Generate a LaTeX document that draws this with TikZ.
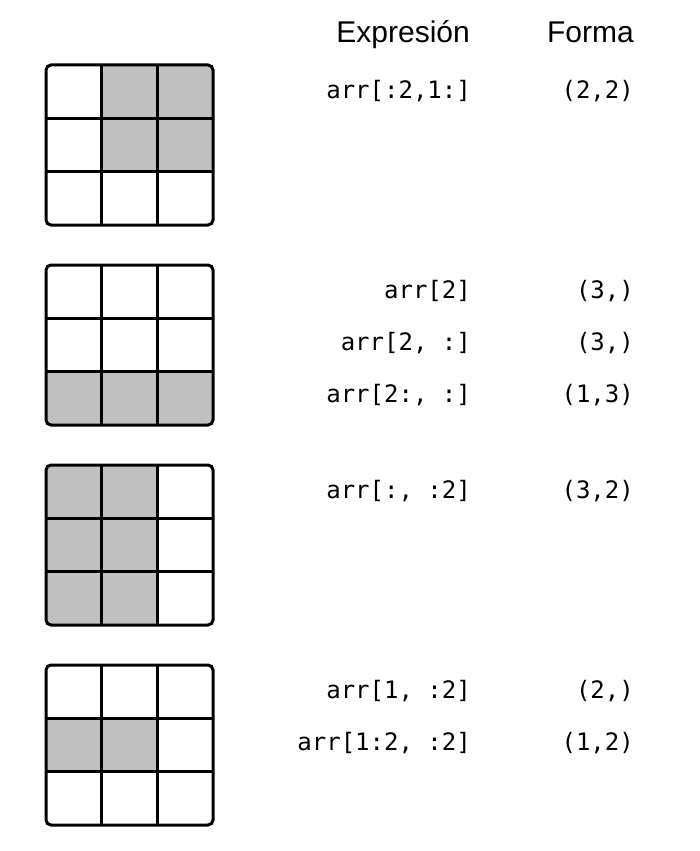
\documentclass[tikz,border=0pt]{standalone}
\usepackage{fontspec}
\setmainfont{Liberation Sans}
\newfontfamily\codefont{DejaVu Sans Mono}
\definecolor{cellgray}{RGB}{192,192,192}

\begin{document}
\begin{tikzpicture}[x=1pt,y=-1pt,
    cell/.style={fill=cellgray},
    gridline/.style={line width=3pt},
    head/.style={anchor=base east,inner sep=0pt,font=\fontsize{30}{30}\selectfont},
    expr/.style={anchor=base east,inner sep=0pt,font=\codefont\fontsize{24}{24}\selectfont}]
    \useasboundingbox (0,0) rectangle (699,851);
    % grids: top edge / shaded cells (column/row)
    \foreach \gy/\cells in {65/{1/0,2/0,1/1,2/1},265/{0/2,1/2,2/2},
            465/{0/0,1/0,0/1,1/1,0/2,1/2},665/{0/1,1/1}} {
        \begin{scope}
            \clip[rounded corners=5pt] (46,\gy) rectangle ++(167,160);
            \foreach \c/\r in \cells
                \fill[cell] ({46+\c*55.67},{\gy+\r*53.33}) rectangle ++(55.67,53.33);
        \end{scope}
        \foreach \i in {1,2} {
            \draw[gridline] ({46+\i*55.67},\gy) -- ++(0,160);
            \draw[gridline] (46,{\gy+\i*53.33}) -- ++(167,0);
        }
        \draw[gridline,rounded corners=5pt] (46,\gy) rectangle ++(167,160);
    }
    \node[head] (hexpr) at (470,43) {Expresión};
    \node[head] (hforma) at (634,43) {Forma};
    \foreach \n/\y/\e/\f in {1/98/{arr[:2,1:]}/{(2,2)},2/298/{arr[2]}/{(3,)},
            3/350/{arr[2, :]}/{(3,)},4/402/{arr[2:, :]}/{(1,3)},
            5/498/{arr[:, :2]}/{(3,2)},6/698/{arr[1, :2]}/{(2,)},
            7/750/{arr[1:2, :2]}/{(1,2)}} {
        \node[expr] (e\n) at (471,\y) {\e};
        \node[expr] (f\n) at (634,\y) {\f};
    }
\end{tikzpicture}
\end{document}
